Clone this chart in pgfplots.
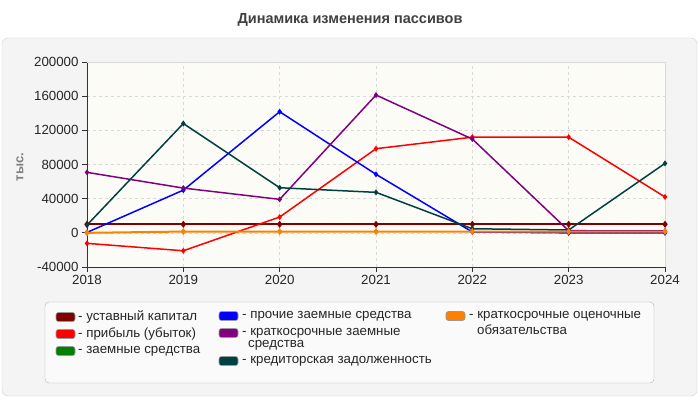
\documentclass[border=0pt]{standalone}
\usepackage{fontspec}
\setmainfont{Liberation Sans}
\usepackage{pgfplots}
\pgfplotsset{compat=1.18}
\usetikzlibrary{patterns}

\definecolor{panel}{HTML}{F4F4F4}
\definecolor{cUst}{HTML}{800000}
\definecolor{cPrib}{HTML}{FF0000}
\definecolor{cZaem}{HTML}{008000}
\definecolor{cProch}{HTML}{0000FF}
\definecolor{cKrZaem}{HTML}{800080}
\definecolor{cKred}{HTML}{004040}
\definecolor{cOcen}{HTML}{FF8000}

\newcommand{\swatch}[3]{% x, y (px from top), colour
  \draw[gray!80, fill=#3, rounded corners=2.5pt, line width=0.6pt] (#1,400-#2-4.5) rectangle (#1+19,400-#2+4.5);}

\begin{document}
\begin{tikzpicture}[x=1pt,y=1pt]
  \fill[white] (0,0) rectangle (700,400);
  \draw[gray!35, fill=panel, rounded corners=6pt] (2,4) rectangle (697,362);
  \node[font=\fontsize{14.5}{16}\selectfont\bfseries, text=black!75] at (350,380) {Динамика изменения пассивов};

  \begin{axis}[
    at={(87pt,133pt)}, anchor=south west,
    scale only axis, width=578pt, height=205pt,
    xmin=2018, xmax=2024, ymin=-40000, ymax=200000,
    xtick={2018,2019,2020,2021,2022,2023,2024},
    ytick={-40000,0,40000,80000,120000,160000,200000},
    /pgf/number format/assume math mode=true,
    xticklabel style={/pgf/number format/1000 sep={}},
    yticklabel style={/pgf/number format/1000 sep={}, /pgf/number format/fixed},
    scaled y ticks=false,
    ticklabel style={font=\fontsize{13.3}{15}\selectfont, text=black!85},
    axis x line*=bottom, axis y line*=left,
    axis line style={black!80, line width=0.8pt},
    tick align=outside, major tick length=5pt,
    tick style={black!80, line width=0.8pt},
    grid=major, major grid style={dashed, gray!30, line width=0.6pt},
    axis background/.style={fill=yellow!3!white, postaction={pattern=north east lines, pattern color=black!3}},
    every axis plot/.append style={line width=1.5pt, mark=diamond*, mark size=1.8pt},
    clip=false,
  ]
    \draw[gray!30, line width=0.6pt] (rel axis cs:0,1) -- (rel axis cs:1,1) -- (rel axis cs:1,0);
    % уставный капитал
    \addplot[color=cUst, line width=2.2pt] coordinates {(2018,10000)(2019,10000)(2020,10000)(2021,10000)(2022,10000)(2023,10000)(2024,10000)};
    % прибыль (убыток)
    \addplot[color=cPrib] coordinates {(2018,-12300)(2019,-21000)(2020,18500)(2021,98500)(2022,112000)(2023,112000)(2024,42000)};
    % прочие заемные средства
    \addplot[color=cProch] coordinates {(2018,500)(2019,50000)(2020,141800)(2021,68500)(2022,1000)(2023,0)(2024,0)};
    % краткосрочные заемные средства
    \addplot[color=cKrZaem] coordinates {(2018,70800)(2019,52400)(2020,39200)(2021,161300)(2022,109800)(2023,2500)(2024,2200)};
    % кредиторская задолженность
    \addplot[color=cKred] coordinates {(2018,9100)(2019,128000)(2020,52800)(2021,47400)(2022,4800)(2023,3300)(2024,81300)};
    % краткосрочные оценочные обязательства
    \addplot[color=cOcen, line width=2pt] coordinates {(2018,0)(2019,1500)(2020,1500)(2021,1500)(2022,1500)(2023,1500)(2024,1500)};
  \end{axis}

  \node[rotate=90, font=\fontsize{13}{15}\selectfont\bfseries, text=gray] at (20,233) {тыс.};

  % legend
  \draw[gray!60, fill=white!98!black, rounded corners=4pt] (45,400-302) rectangle (654,400-383);
  \begin{scope}[every node/.style={anchor=west, inner sep=0pt, font=\fontsize{13.3}{15}\selectfont, text=black!85}]
    \swatch{56}{317}{cUst}   \node at (78,400-317) {- уставный капитал};
    \swatch{56}{334}{cPrib}  \node at (78,400-334) {- прибыль (убыток)};
    \swatch{56}{351}{cZaem}  \node at (78,400-351) {- заемные средства};
    \swatch{219}{316}{cProch}  \node at (242,400-316) {- прочие заемные средства};
    \swatch{219}{333}{cKrZaem} \node at (242,400-333) {- краткосрочные заемные};
    \node at (248,400-345) {средства};
    \swatch{219}{361}{cKred}   \node at (242,400-361) {- кредиторская задолженность};
    \swatch{446}{316}{cOcen}   \node at (469,400-316) {- краткосрочные оценочные};
    \node at (477,400-330) {обязательства};
  \end{scope}
\end{tikzpicture}
\end{document}
